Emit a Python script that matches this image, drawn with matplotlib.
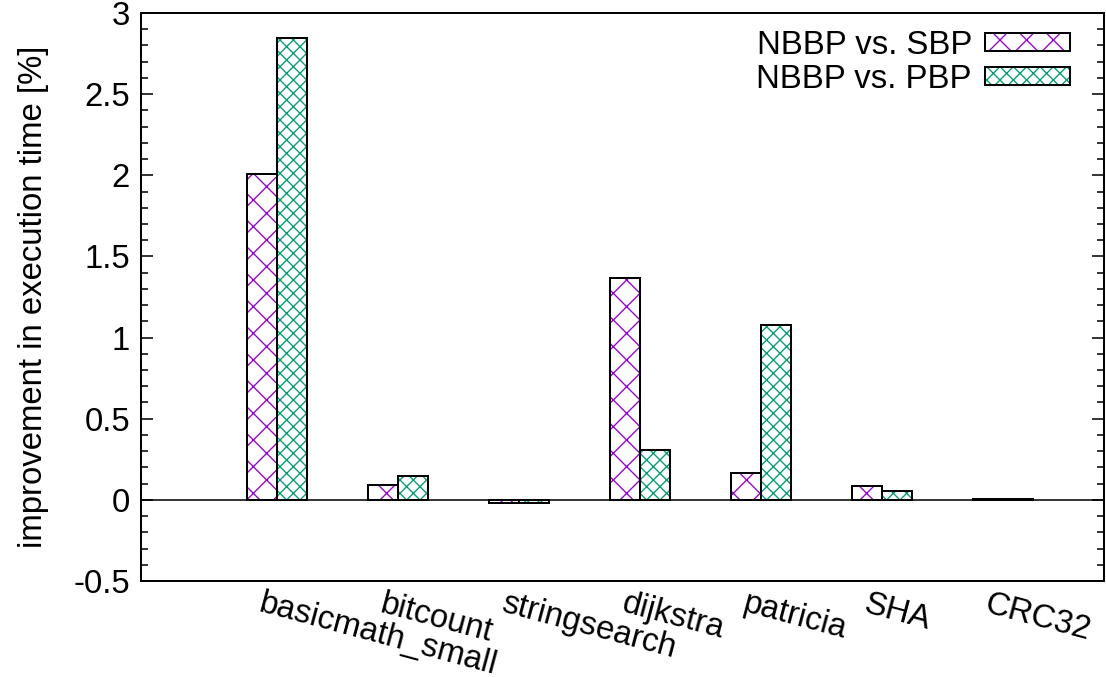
import numpy as np
import matplotlib
matplotlib.use('Agg')
import matplotlib.pyplot as plt
import matplotlib.transforms as mtrans
from matplotlib.ticker import MultipleLocator, FormatStrFormatter
from matplotlib.legend_handler import HandlerTuple

# 数据
benchmarks = ['basicmath_small', 'bitcount', 'stringsearch', 'dijkstra',
              'patricia', 'SHA', 'CRC32']
vs_sbp = [2.007, 0.09, -0.022, 1.368, 0.166, 0.086, 0.004]
vs_pbp = [2.845, 0.146, -0.022, 0.308, 1.078, 0.055, 0.003]
series_labels = ['NBBP vs. SBP', 'NBBP vs. PBP']

DPI = 160
plt.rcParams['font.family'] = ['Liberation Sans', 'DejaVu Sans']
plt.rcParams['font.size'] = 14.8
plt.rcParams['axes.unicode_minus'] = False
plt.rcParams['hatch.linewidth'] = 0.6

fig = plt.figure(figsize=(1106 / DPI, 677 / DPI), dpi=DPI)
ax = fig.add_axes([141 / 1106, 1 - 581 / 677, 963 / 1106, 568 / 677])

x = np.arange(len(benchmarks))
w = 0.25
purple = '#9400D3'
green = '#009E73'

# 先画填充纹理，再画黑色边框
h1 = ax.bar(x - w / 2, vs_sbp, w, color='white', edgecolor=purple, hatch='xx', linewidth=0, zorder=2)
h2 = ax.bar(x + w / 2, vs_pbp, w, color='white', edgecolor=green, hatch='xxxx', linewidth=0, zorder=2)
e1 = ax.bar(x - w / 2, vs_sbp, w, color='none', edgecolor='black', linewidth=0.9, zorder=3)
e2 = ax.bar(x + w / 2, vs_pbp, w, color='none', edgecolor='black', linewidth=0.9, zorder=3)

ax.axhline(0, color='black', linewidth=0.7, zorder=1)

ax.set_xlim(-1.124, 6.835)
ax.set_ylim(-0.5, 3)
ax.yaxis.set_major_locator(MultipleLocator(0.5))
ax.yaxis.set_minor_locator(MultipleLocator(0.1))
ax.yaxis.set_major_formatter(FormatStrFormatter('%g'))
ax.tick_params(axis='y', which='both', direction='in', left=True, right=True, width=0.7)
ax.tick_params(axis='y', which='major', length=5.5, pad=5)
ax.tick_params(axis='y', which='minor', length=3)
ax.tick_params(axis='x', length=0, pad=3.4)
for s in ax.spines.values():
    s.set_linewidth(0.9)

ax.set_xticks(x)
ax.set_xticklabels(benchmarks, rotation=-15, ha='left', va='top', rotation_mode='anchor')
offset = mtrans.ScaledTranslation(-13 / DPI, 0, fig.dpi_scale_trans)
for lbl in ax.get_xticklabels():
    lbl.set_transform(lbl.get_transform() + offset)

ax.set_ylabel('improvement in execution time [%]', labelpad=11)

ax.legend([(h1[0], e1[0]), (h2[0], e2[0])], series_labels,
          handler_map={tuple: HandlerTuple(ndivide=1)},
          loc='upper right', bbox_to_anchor=((1070 - 141) / 963, 1 - 17 / 568),
          frameon=False, markerfirst=False, borderpad=0, borderaxespad=0,
          handlelength=2.58, handleheight=0.45, handletextpad=0.4, labelspacing=0.08)

fig.savefig('out.png', dpi=DPI)
